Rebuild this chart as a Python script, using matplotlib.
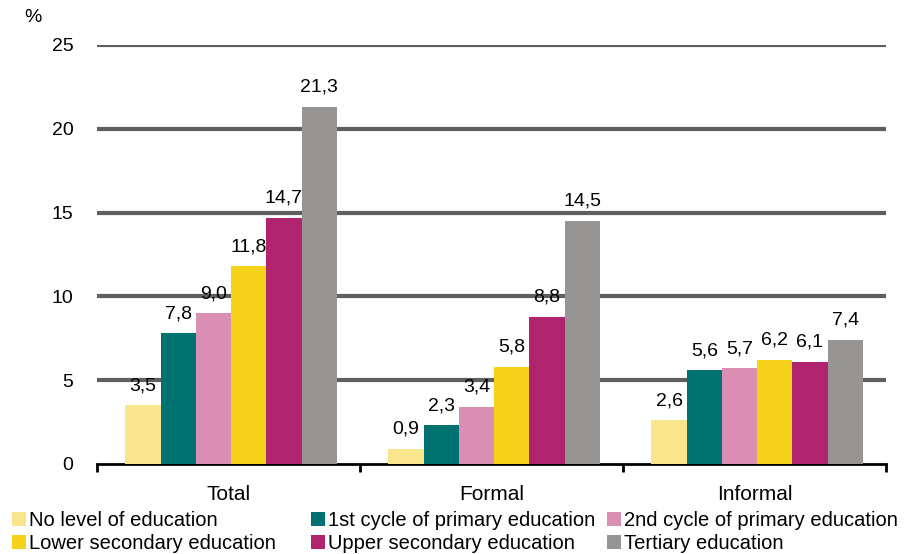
import matplotlib
matplotlib.use("Agg")
import matplotlib.pyplot as plt
import numpy as np
from matplotlib.patches import Patch

plt.rcParams['font.family'] = ['Liberation Sans', 'DejaVu Sans']

categories = ["Total", "Formal", "Informal"]
series_names = ["No level of education", "1st cycle of primary education",
                "2nd cycle of primary education", "Lower secondary education",
                "Upper secondary education", "Tertiary education"]
values = {
    "No level of education": [3.5, 0.9, 2.6],
    "1st cycle of primary education": [7.8, 2.3, 5.6],
    "2nd cycle of primary education": [9.0, 3.4, 5.7],
    "Lower secondary education": [11.8, 5.8, 6.2],
    "Upper secondary education": [14.7, 8.8, 6.1],
    "Tertiary education": [21.3, 14.5, 7.4],
}
colors = ["#F9E58B", "#007270", "#DB8FB4", "#F6D21A", "#B0246E", "#969594"]
yticks = [0, 5, 10, 15, 20, 25]

fig = plt.figure(figsize=(9.14, 5.54), dpi=100)
ax = fig.add_axes([97/914, 1-464/554, (886-97)/914, (464-45)/554])

n = len(series_names)
bw = 0.134
x = np.arange(len(categories))
for i, name in enumerate(series_names):
    xs = x + (i - (n-1)/2) * bw + 0.01
    bars = ax.bar(xs, values[name], width=bw, color=colors[i], zorder=3, label=name)
    for b, v in zip(bars, values[name]):
        ax.annotate(f"{v:.1f}".replace(".", ","), (b.get_x()+b.get_width()/2, v),
                    xytext=(0, 8), textcoords="offset points", ha="center", va="bottom",
                    fontsize=14, zorder=4)

ax.set_xlim(-0.5, 2.5)
ax.set_ylim(0, 25)
ax.set_yticks(yticks)
ax.set_yticklabels([str(t) for t in yticks], fontsize=14)
ax.tick_params(axis='y', length=0, pad=17)
for t in yticks[1:]:
    ax.axhline(t, color="#5F5F5F", lw=3, zorder=1)
for s in ["top", "right", "left"]:
    ax.spines[s].set_visible(False)
ax.spines["bottom"].set_linewidth(2)
ax.spines["bottom"].set_color("black")
ax.set_xticks(x)
ax.set_xticklabels(categories, fontsize=15)
ax.tick_params(axis='x', which='major', length=0, pad=15)
ax.set_xticks([-0.5, 0.5, 1.5, 2.5], minor=True)
ax.tick_params(axis='x', which='minor', length=6, width=2, color="black", direction="out")

fig.text(33/914, 1-18/554, "%", fontsize=14, ha="center", va="center")

handles = [Patch(facecolor=c, edgecolor="none") for c in colors]
columns = [[0, 3], [1, 4], [2, 5]]
col_x = [12, 311, 607]
for cx, idxs in zip(col_x, columns):
    fig.legend([handles[i] for i in idxs], [series_names[i] for i in idxs],
               loc="upper left", bbox_to_anchor=(cx/914, 1-511/554),
               frameon=False, fontsize=14.5, handlelength=0.7, handleheight=0.7,
               handletextpad=0.12, labelspacing=0.18,
               borderaxespad=0, borderpad=0)

fig.savefig("out.png", dpi=100)
